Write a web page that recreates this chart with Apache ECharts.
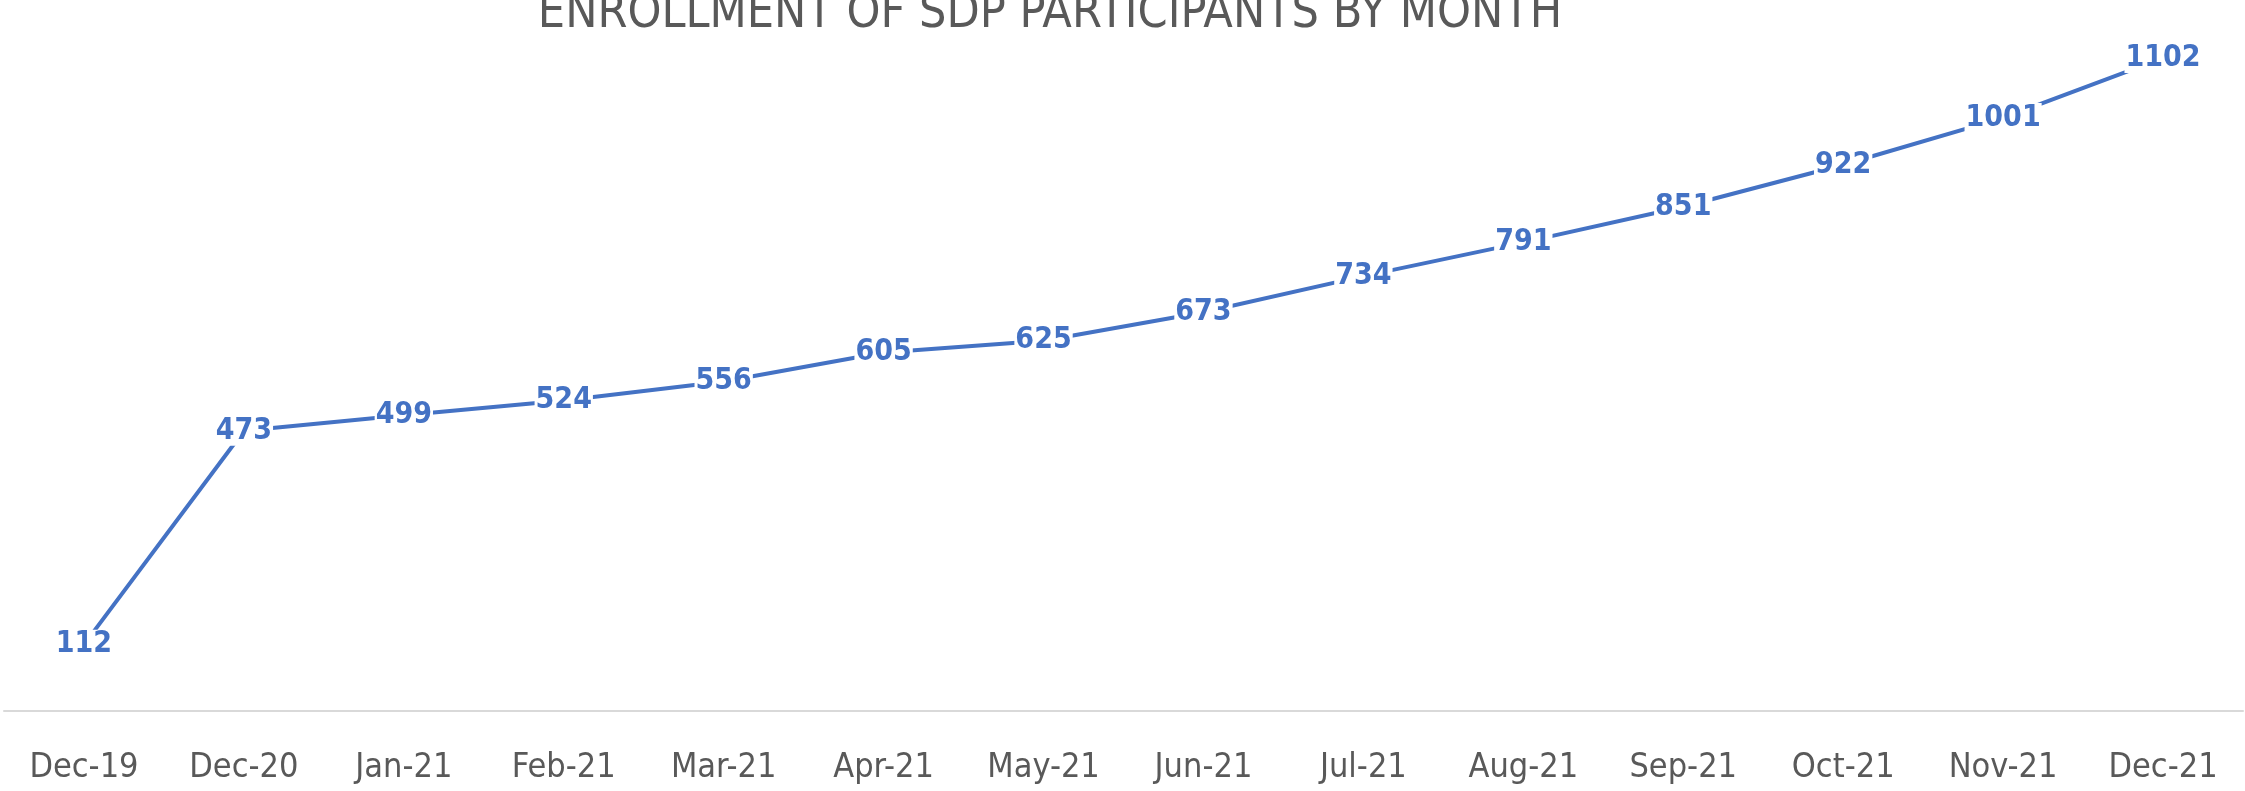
<!DOCTYPE html>
<html>
<head>
<meta charset="utf-8">
<script src="https://cdn.jsdelivr.net/npm/echarts@6/dist/echarts.min.js"></script>
<style>
html,body{margin:0;padding:0;background:#fff;}
#chart{width:2245px;height:791px;}
</style>
</head>
<body>
<div id="chart"></div>
<script>
const titleText = 'ENROLLMENT OF SDP PARTICIPANTS BY MONTH';
const categories = ['Dec-19','Dec-20','Jan-21','Feb-21','Mar-21','Apr-21','May-21','Jun-21','Jul-21','Aug-21','Sep-21','Oct-21','Nov-21','Dec-21'];
const enrollment = [112,473,499,524,556,605,625,673,734,791,851,922,1001,1102];

const FONT = "'DejaVu Sans Condensed', 'Liberation Sans Narrow', sans-serif";
const chart = echarts.init(document.getElementById('chart'));
chart.setOption({
  backgroundColor: '#ffffff',
  animation: false,
  title: {
    text: titleText,
    left: 1050,
    textAlign: 'center',
    top: -9,
    padding: 0,
    textStyle: { fontFamily: FONT, fontSize: 48, fontWeight: 'normal', color: '#595959' }
  },
  grid: { left: 4, right: 2, top: -37, bottom: 80, containLabel: false },
  xAxis: {
    type: 'category',
    data: categories,
    boundaryGap: true,
    axisLine: { show: true, lineStyle: { color: '#d9d9d9', width: 2 } },
    axisTick: { show: false },
    splitLine: { show: false },
    axisLabel: { fontFamily: FONT, fontSize: 34, color: '#595959', margin: 40, interval: 0 }
  },
  yAxis: {
    type: 'value',
    min: 0,
    max: 1200,
    show: false,
    splitLine: { show: false }
  },
  series: [{
    type: 'line',
    data: enrollment,
    clip: false,
    symbol: 'circle',
    symbolSize: 0,
    showSymbol: true,
    lineStyle: { color: '#4472C4', width: 4 },
    itemStyle: { color: '#4472C4' },
    label: {
      show: true,
      position: 'inside',
      fontFamily: FONT,
      fontSize: 30,
      fontWeight: 'bold',
      color: '#4472C4',
      backgroundColor: '#ffffff',
      padding: [0, 1, 0, 1]
    }
  }]
});
</script>
</body>
</html>
